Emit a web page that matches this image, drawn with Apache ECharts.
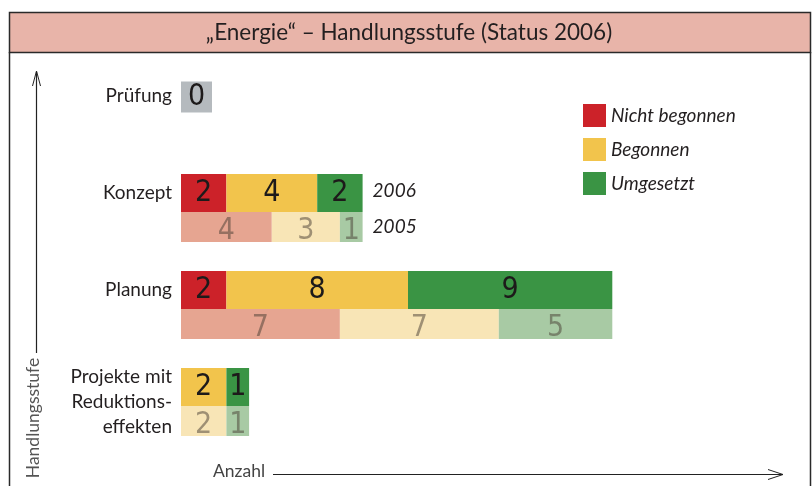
<!DOCTYPE html>
<html>
<head>
<meta charset="utf-8">
<script src="https://cdn.jsdelivr.net/npm/echarts@6/dist/echarts.min.js"></script>
<style>html,body{margin:0;padding:0;background:#fff;}#c{width:812px;height:486px;}</style>
</head>
<body>
<div id="c"></div>
<script>
const categories = ['Prüfung', 'Konzept', 'Planung', 'Projekte mit\nReduktions-\neffekten'];
const seriesNames = ['Nicht begonnen', 'Begonnen', 'Umgesetzt'];
const nicht2006 = [null, 2, 2, 0];
const begonnen2006 = [null, 4, 8, 2];
const umgesetzt2006 = [null, 2, 9, 1];
const nicht2005 = [null, 4, 7, 0];
const begonnen2005 = [null, 3, 7, 2];
const umgesetzt2005 = [null, 1, 5, 1];
const pruefung = [0, null, null, null];
const yearMarks2006 = [null, 0, null, null];
const yearMarks2005 = [null, 0, null, null];
const yearLabels = ['2006', '2005'];
const titleText = '„Energie“ – Handlungsstufe (Status 2006)';
const xName = 'Anzahl';
const yName = 'Handlungsstufe';

const numFont = '"Liberation Sans Narrow","DejaVu Sans Condensed",Roboto,sans-serif';
const txtFont = 'Lato,"Open Sans",sans-serif';
const dark = ['#cc2229', '#f2c44c', '#3a9444'];
const light = ['#e6a591', '#f8e5b6', '#a8caa4'];

function valLabel(color, dy) {
  return {
    show: true, position: 'inside', color: color, fontFamily: numFont,
    fontSize: 30, offset: [0, dy],
    formatter: p => (p.value ? String(p.value) : '')
  };
}

const data2006 = [nicht2006, begonnen2006, umgesetzt2006];
const data2005 = [nicht2005, begonnen2005, umgesetzt2005];
const series = [];
data2006.forEach((d, i) => series.push({
  name: seriesNames[i], type: 'bar', stack: 's2006', barWidth: 38, barGap: '0%',
  data: d, itemStyle: { color: dark[i] }, label: valLabel('#1d1a1a', 0), silent: true
}));
series.push({
  name: 'y2006', type: 'bar', stack: 's2006', barWidth: 38, barGap: '0%', data: yearMarks2006,
  itemStyle: { color: 'transparent' }, silent: true,
  label: { show: true, position: 'right', distance: 10, offset: [0, -2], formatter: yearLabels[0], fontStyle: 'italic',
    fontFamily: txtFont, fontSize: 19, color: '#231f20' }
});
data2005.forEach((d, i) => series.push({
  name: seriesNames[i], type: 'bar', stack: 's2005', barWidth: 30, barGap: '0%',
  data: d, itemStyle: { color: light[i] }, label: valLabel('rgba(70,60,50,0.5)', 4), silent: true
}));
series.push({
  name: 'y2005', type: 'bar', stack: 's2005', barWidth: 30, barGap: '0%', data: yearMarks2005,
  itemStyle: { color: 'transparent' }, silent: true,
  label: { show: true, position: 'right', distance: 10, formatter: yearLabels[1], fontStyle: 'italic',
    fontFamily: txtFont, fontSize: 19, color: '#231f20' }
});
series.push({
  name: 'Prüfung', type: 'bar', yAxisIndex: 1, stack: 'pr', barWidth: 31, barGap: '0%', barMinHeight: 31,
  data: pruefung, itemStyle: { color: '#b5babe' }, silent: true,
  label: { show: true, position: 'inside', color: '#1d1a1a', fontFamily: numFont, fontSize: 30, formatter: p => String(p.value) }
});
series.push({
  name: 'pad', type: 'bar', yAxisIndex: 1, stack: 'pad', barWidth: 28, barGap: '0%', data: [], silent: true
});

const chart = echarts.init(document.getElementById('c'), null, { renderer: 'canvas' });
chart.setOption({
  animation: false,
  backgroundColor: '#fff',
  grid: { left: 181, right: 177, top: 62.5, bottom: 35.5, containLabel: false },
  xAxis: { type: 'value', min: 0, max: 20, show: false },
  yAxis: [
    { type: 'category', data: categories, inverse: true,
      axisLine: { show: false }, axisTick: { show: false }, splitLine: { show: false },
      axisLabel: { margin: 9, color: '#231f20', fontFamily: txtFont, fontSize: 19, lineHeight: 25, align: 'right',
        formatter: (v, i) => (v.indexOf('\n') < 0 ? '{t|' + v + '}\n{s| }' : v),
        rich: { t: { fontFamily: txtFont, fontSize: 19, lineHeight: 25, color: '#231f20' }, s: { fontSize: 4, lineHeight: 30 } } },
    },
    { type: 'category', data: categories, inverse: true, show: false }
  ],
  legend: {
    data: seriesNames, orient: 'vertical', left: 578, top: 99, itemWidth: 23, itemHeight: 23, itemGap: 11,
    icon: 'rect', selectedMode: false,
    textStyle: { fontStyle: 'italic', fontFamily: txtFont, fontSize: 19, color: '#231f20' }
  },
  graphic: [
    { type: 'rect', shape: { x: 9.5, y: 12.5, width: 801, height: 40 }, style: { fill: '#e8b4a9', stroke: '#2a2a2a', lineWidth: 1.5 }, z: 0 },
    { type: 'line', shape: { x1: 9.5, y1: 52, x2: 9.5, y2: 486 }, style: { stroke: '#2a2a2a', lineWidth: 1.5 } },
    { type: 'line', shape: { x1: 810.5, y1: 52, x2: 810.5, y2: 486 }, style: { stroke: '#2a2a2a', lineWidth: 1.5 } },
    { type: 'text', x: 409, y: 33, style: { text: titleText, fontFamily: txtFont, fontSize: 22.5, fill: '#231f20', align: 'center', verticalAlign: 'middle' } },
    { type: 'polyline', shape: { points: [[36.5, 353], [36.5, 72]] }, style: { stroke: '#222', lineWidth: 1.2, fill: null } },
    { type: 'polyline', shape: { points: [[32.5, 86], [36.5, 71], [40.5, 86]] }, style: { stroke: '#222', lineWidth: 1, fill: null } },
    { type: 'text', x: 33, y: 418, rotation: Math.PI / 2, style: { text: yName, fontFamily: txtFont, fontSize: 17.5, fill: '#555', align: 'center', verticalAlign: 'middle' } },
    { type: 'text', x: 213, y: 471, style: { text: xName, fontFamily: txtFont, fontSize: 17.5, fill: '#444', align: 'left', verticalAlign: 'middle' } },
    { type: 'polyline', shape: { points: [[273, 474.5], [783, 474.5]] }, style: { stroke: '#222', lineWidth: 1.2, fill: null } },
    { type: 'polyline', shape: { points: [[768, 469.5], [783, 474.5], [768, 479.5]] }, style: { stroke: '#222', lineWidth: 1, fill: null } }
  ],
  series: series
});
</script>
</body>
</html>
